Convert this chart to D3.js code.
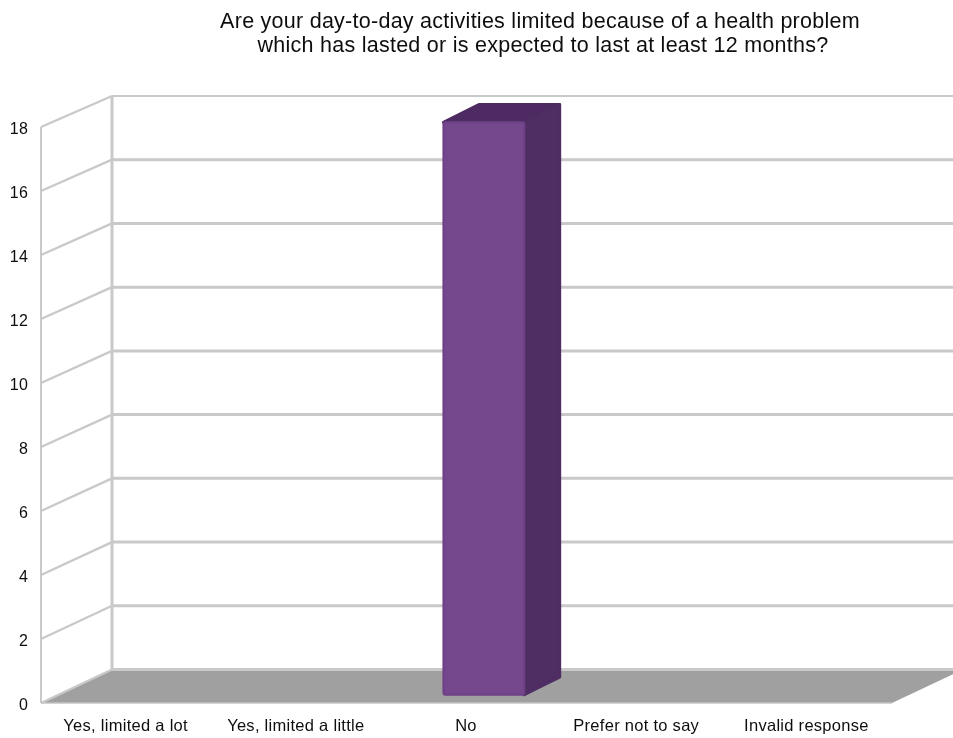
<!DOCTYPE html>
<html><head><meta charset="utf-8">
<script src="https://cdn.jsdelivr.net/npm/d3@7/dist/d3.min.js"></script>
<style>html,body{margin:0;padding:0;background:#fff;overflow:hidden}svg{display:block}text{font-family:"Liberation Sans",Arial,sans-serif;fill:#111}</style>
</head><body><svg id="c" width="953" height="738"></svg>
<script>
const categories = ["Yes, limited a lot","Yes, limited a little","No","Prefer not to say","Invalid response"];
const values = [0,0,18,0,0];
const yTicks = [0,2,4,6,8,10,12,14,16,18];
const titleLines = ["Are your day-to-day activities limited because of a health problem","which has lasted or is expected to last at least 12 months?"];

const svg = d3.select("#c");
const W = 953, H = 738;
const x = d3.scaleBand(categories,[41,892]);
const y = d3.scaleLinear([0,18],[703,127]);
const yBack = d3.scaleLinear([0,18],[669.5,96]);
const DX = 71, DY = -33;
const grid = "#c9c9c9";
const g = svg.append("g").attr("filter","url(#soft)");
const f = svg.append("filter").attr("id","soft").attr("x",0).attr("y",0).attr("width","100%").attr("height","100%");
f.append("feGaussianBlur").attr("stdDeviation",0.45);

// floor
const line = d3.line();
g.append("path").attr("d",line([[x.range()[0],y(0)],[x.range()[0]+DX,yBack(0)],[x.range()[1]+DX,yBack(0)],[x.range()[1],y(0)]])+"Z").attr("fill","#a0a0a0");

// back-wall and side-wall gridlines
g.selectAll("line.back").data(yTicks).join("line").attr("class","back")
  .attr("x1",x.range()[0]+DX).attr("x2",W+5).attr("y1",d=>yBack(d)).attr("y2",d=>yBack(d))
  .attr("stroke",grid).attr("stroke-width",d=>d===18?2:3);
g.selectAll("line.side").data(yTicks).join("line").attr("class","side")
  .attr("x1",x.range()[0]).attr("x2",x.range()[0]+DX).attr("y1",d=>y(d)).attr("y2",d=>yBack(d))
  .attr("stroke",grid).attr("stroke-width",2.4);
g.append("line").attr("x1",x.range()[0]+DX).attr("x2",x.range()[0]+DX).attr("y1",yBack(18)).attr("y2",yBack(0)).attr("stroke",grid).attr("stroke-width",3);
g.append("line").attr("x1",x.range()[0]).attr("x2",x.range()[0]).attr("y1",y(18)).attr("y2",y(0)).attr("stroke",grid).attr("stroke-width",2);
g.append("line").attr("x1",x.range()[0]).attr("x2",x.range()[1]).attr("y1",y(0)).attr("y2",y(0)).attr("stroke","#c4c4c4").attr("stroke-width",1.5);

// bars
const inner = 0.475; // share of band covered by the bar
const front = 0.25, back = 0.77;
const topInset = 3.5;
const bars = g.selectAll("g.bar").data(categories.map((c,i)=>({c,v:values[i]})).filter(d=>d.v>0)).join("g").attr("class","bar");
const geom = d => {
  const w = x.bandwidth()*inner;
  const x0 = x(d.c)+(x.bandwidth()-w)/2+DX*front - 0.4;
  const x1 = x0+w;
  const yb = y(0)+DY*front, yt = y(d.v)+DY*front+topInset;
  const ox = DX*(back-front)-1.5, oy = DY*(back-front)-0.5;
  return {x0,x1,yb,yt,ox,oy};
};
bars.append("path").attr("d",d=>{const a=geom(d);return line([[a.x0,a.yt],[a.x0+a.ox,a.yt+a.oy],[a.x1+a.ox,a.yt+a.oy],[a.x1,a.yt]])+"Z";})
  .attr("fill","#4e2c62").attr("stroke","#4e2c62").attr("stroke-width",3).attr("stroke-linejoin","round");
bars.append("path").attr("d",d=>{const a=geom(d);return line([[a.x1,a.yt],[a.x1+a.ox,a.yt+a.oy],[a.x1+a.ox,a.yb+a.oy],[a.x1,a.yb]])+"Z";})
  .attr("fill","#4f2d63").attr("stroke","#4f2d63").attr("stroke-width",3).attr("stroke-linejoin","round");
bars.append("rect").attr("x",d=>geom(d).x0).attr("y",d=>geom(d).yt).attr("width",d=>geom(d).x1-geom(d).x0).attr("height",d=>geom(d).yb-geom(d).yt)
  .attr("rx",2).attr("fill","#74468c").attr("stroke","#6e4186").attr("stroke-width",2).attr("stroke-linejoin","round");

// axes
const yAxis = d3.axisLeft(y).tickValues(yTicks).tickSize(0).tickPadding(0);
const ya = g.append("g").attr("transform","translate(28,1)").call(yAxis);
ya.select(".domain").remove();
ya.selectAll("text").attr("font-size",16).attr("letter-spacing",0.2).attr("fill","#222");
const xAxis = d3.axisBottom(x).tickSize(0).tickPadding(0);
const xa = g.append("g").attr("transform",`translate(-0.5,${y(0)+16})`).call(xAxis);
xa.select(".domain").remove();
xa.selectAll("text").attr("font-size",16.5).attr("letter-spacing",0.28).attr("fill","#222");

// title
g.append("text").attr("x",540).attr("y",28).attr("text-anchor","middle").attr("font-size",21.5).attr("letter-spacing",0.26).text(titleLines[0]);
g.append("text").attr("x",543).attr("y",52).attr("text-anchor","middle").attr("font-size",21.5).attr("letter-spacing",0.26).text(titleLines[1]);
</script></body></html>
